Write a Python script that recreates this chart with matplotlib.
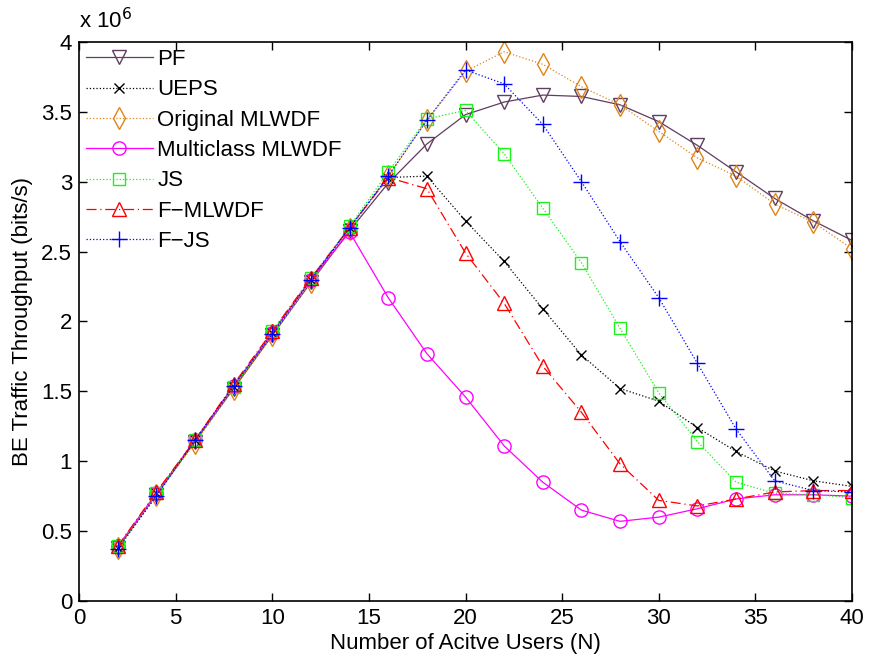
import matplotlib
matplotlib.use("Agg")
import matplotlib.pyplot as plt

plt.rcParams['font.family'] = ['Liberation Sans', 'DejaVu Sans']

users = [2, 4, 6, 8, 10, 12, 14, 16, 18, 20, 22, 24, 26, 28, 30, 32, 34, 36, 38, 40]

pf = [0.38, 0.76, 1.14, 1.52, 1.90, 2.28, 2.65, 2.99, 3.27, 3.48, 3.57, 3.62, 3.61, 3.55,
      3.43, 3.26, 3.07, 2.88, 2.72, 2.58]
ueps = [0.38, 0.77, 1.15, 1.53, 1.92, 2.30, 2.67, 3.03, 3.04, 2.72, 2.43, 2.09, 1.76, 1.52,
        1.43, 1.24, 1.07, 0.93, 0.86, 0.82]
orig_mlwdf = [0.38, 0.76, 1.13, 1.52, 1.90, 2.28, 2.66, 3.04, 3.44, 3.79, 3.93, 3.84, 3.68,
              3.55, 3.36, 3.17, 3.04, 2.84, 2.71, 2.52]
multi_mlwdf = [0.39, 0.77, 1.15, 1.54, 1.92, 2.30, 2.64, 2.17, 1.77, 1.46, 1.11, 0.85, 0.65,
               0.57, 0.60, 0.66, 0.73, 0.76, 0.76, 0.75]
js = [0.39, 0.77, 1.15, 1.53, 1.93, 2.31, 2.68, 3.07, 3.45, 3.51, 3.20, 2.81, 2.42, 1.95,
      1.49, 1.14, 0.85, 0.77, 0.76, 0.74]
f_mlwdf = [0.39, 0.78, 1.15, 1.55, 1.93, 2.31, 2.67, 3.03, 2.95, 2.49, 2.13, 1.68, 1.35,
           0.98, 0.72, 0.68, 0.73, 0.78, 0.79, 0.79]
f_js = [0.37, 0.75, 1.15, 1.54, 1.91, 2.30, 2.67, 3.04, 3.44, 3.80, 3.70, 3.41, 3.00, 2.57,
        2.17, 1.70, 1.23, 0.86, 0.79, 0.78]

series = [
    ("PF", pf, dict(color=(0.38, 0.24, 0.38), linestyle='-', marker='v', markersize=10.5)),
    ("UEPS", ueps, dict(color='black', linestyle=':', marker='x', markersize=7.5)),
    ("Original MLWDF", orig_mlwdf, dict(color=(0.87, 0.52, 0.1), linestyle=':', marker='d', markersize=11)),
    ("Multiclass MLWDF", multi_mlwdf, dict(color=(1.0, 0.0, 1.0), linestyle='-', marker='o', markersize=9.5)),
    ("JS", js, dict(color=(0.1, 0.95, 0.1), linestyle=':', marker='s', markersize=8)),
    ("F\u2212MLWDF", f_mlwdf, dict(color=(1.0, 0.0, 0.0), linestyle=(0, (8, 3, 1, 3)), marker='^', markersize=10.5)),
    ("F\u2212JS", f_js, dict(color=(0.0, 0.0, 1.0), linestyle=':', marker='+', markersize=11)),
]

fig = plt.figure(figsize=(8.71, 6.64), dpi=100)
ax = fig.add_axes([0.0907, 0.0949, 0.8875, 0.8419])

for label, vals, style in series:
    ax.plot(users, [v * 1e6 for v in vals], label=label, linewidth=0.9,
            markerfacecolor='none', markeredgewidth=1.0, **style)

ax.set_xlim(0, 40)
ax.set_ylim(0, 4e6)
ax.set_xticks(range(0, 41, 5))
ax.set_yticks([i * 0.5e6 for i in range(9)])
ax.set_yticklabels(['0', '0.5', '1', '1.5', '2', '2.5', '3', '3.5', '4'])
ax.tick_params(direction='in', top=True, right=True, labelsize=16, length=6,
               width=1.0, pad=5)
for s in ax.spines.values():
    s.set_linewidth(1.2)

ax.text(0.0, 1.015, r'x 10$^{6}$', transform=ax.transAxes, fontsize=16,
        ha='left', va='bottom')

ax.set_xlabel('Number of Acitve Users (N)', fontsize=16, labelpad=3)
ax.set_ylabel('BE Traffic Throughput (bits/s)', fontsize=16, labelpad=6)

ax.legend(loc='upper left', frameon=False, fontsize=16, handlelength=3.0,
          borderaxespad=0.0, borderpad=0.32, labelspacing=0.42, handletextpad=0.2,
          bbox_to_anchor=(0.0, 1.0))

fig.savefig('out.png', dpi=100)
